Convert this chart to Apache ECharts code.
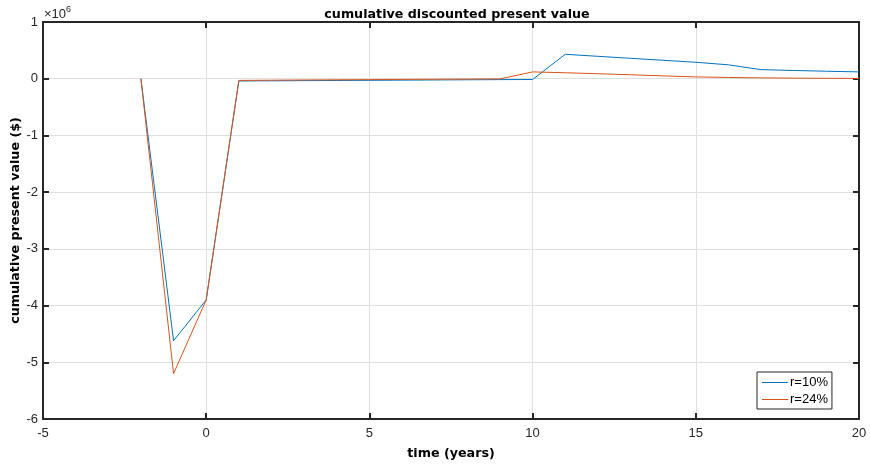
<!DOCTYPE html>
<html>
<head>
<meta charset="utf-8">
<script src="https://cdn.jsdelivr.net/npm/echarts@6/dist/echarts.min.js"></script>
<style>
  html, body { margin: 0; padding: 0; background: #fff; }
  #chart { width: 870px; height: 465px; }
</style>
</head>
<body>
<div id="chart"></div>
<script>
const years = [-2, -1, 0, 1, 2, 3, 4, 5, 6, 7, 8, 9, 10, 11, 12, 13, 14, 15, 16, 17, 18, 19, 20]
const pv10 = [0, -4620000, -3900000, -40000, -37000, -34000, -31000, -28000, -25000, -22000, -19000, -16000, -14000,
  430000, 395000, 360000, 325000, 290000, 245000, 160000, 145000, 132000, 120000]
const pv24 = [0, -5200000, -3900000, -30000, -26000, -22000, -19000, -16000, -12000, -9000, -6000, -3000, 120000,
  105000, 88000, 70000, 50000, 32000, 22000, 15000, 10000, 7000, 5000]
const xTicks = { min: -5, max: 20, step: 5 }
const yTicks = { min: -6000000, max: 1000000, step: 1000000 }

const FONT = 'Liberation Sans, Arial, sans-serif'
const BOLD = 'DejaVu Sans, sans-serif'
const INK = '#262626'
const chart = echarts.init(document.getElementById('chart'))

const tickAxis = (extra) => Object.assign({
  type: 'value',
  axisLine: { show: true, onZero: false, lineStyle: { color: INK, width: 2 } },
  axisTick: { show: true, inside: true, length: 6, lineStyle: { color: INK, width: 2 } },
  splitLine: { show: false },
  axisLabel: { show: false },
}, extra)

chart.setOption({
  animation: false,
  textStyle: { fontFamily: FONT },
  title: {
    text: 'cumulative discounted present value',
    left: 452, textAlign: 'center', top: 3,
    textStyle: { fontSize: 12.7, fontWeight: 'bold', color: '#000', fontFamily: BOLD },
  },
  grid: { left: 43, right: 11, top: 22, bottom: 46, outerBoundsMode: 'none', containLabel: false },
  xAxis: [
    tickAxis({
      min: xTicks.min, max: xTicks.max, interval: xTicks.step, position: 'bottom',
      name: 'time (years)', nameLocation: 'middle', nameGap: 28, nameMoveOverlap: false,
      nameTextStyle: { fontSize: 12.7, fontWeight: 'bold', color: '#000', fontFamily: BOLD },
      axisLabel: { show: true, color: INK, fontSize: 13, margin: 8 },
      splitLine: { show: true, lineStyle: { color: '#dfdfdf', width: 1 } },
    }),
    tickAxis({ min: xTicks.min, max: xTicks.max, interval: xTicks.step, position: 'top' }),
  ],
  yAxis: [
    tickAxis({
      min: yTicks.min, max: yTicks.max, interval: yTicks.step, position: 'left',
      name: 'cumulative present value ($)', nameLocation: 'middle', nameGap: 21, nameMoveOverlap: false,
      nameTextStyle: { fontSize: 12.7, fontWeight: 'bold', color: '#000', fontFamily: BOLD },
      axisLabel: { show: true, color: INK, fontSize: 13, margin: 5, formatter: v => String(Math.round(v / 1e6)) },
      splitLine: { show: true, lineStyle: { color: '#dfdfdf', width: 1 } },
    }),
    tickAxis({ min: yTicks.min, max: yTicks.max, interval: yTicks.step, position: 'right' }),
  ],
  legend: {
    left: 757, top: 372, orient: 'vertical', icon: 'rect',
    backgroundColor: '#fff', borderColor: INK, borderWidth: 1, borderRadius: 0,
    padding: [4, 4, 3, 5], itemGap: 4, itemWidth: 26, itemHeight: 1,
    textStyle: { fontSize: 13, lineHeight: 13, color: '#000', padding: [0, 0, 0, -3] },
    data: ['r=10%', 'r=24%'],
  },
  graphic: [{
    type: 'text', left: 44, top: 5,
    style: {
      text: '{a|×10}{b|6}',
      rich: {
        a: { fontSize: 13, fill: INK, fontFamily: FONT, verticalAlign: 'bottom' },
        b: { fontSize: 9, fill: INK, fontFamily: FONT, verticalAlign: 'top', padding: [0, 0, 7, 0] },
      },
    },
  }],
  series: [
    {
      name: 'r=10%', type: 'line', symbol: 'none',
      data: years.map((y, i) => [y, pv10[i]]),
      lineStyle: { color: '#0072BD', width: 1 }, itemStyle: { color: '#0072BD' },
    },
    {
      name: 'r=24%', type: 'line', symbol: 'none',
      data: years.map((y, i) => [y, pv24[i]]),
      lineStyle: { color: '#D95319', width: 1 }, itemStyle: { color: '#D95319' },
    },
  ],
})
</script>
</body>
</html>
